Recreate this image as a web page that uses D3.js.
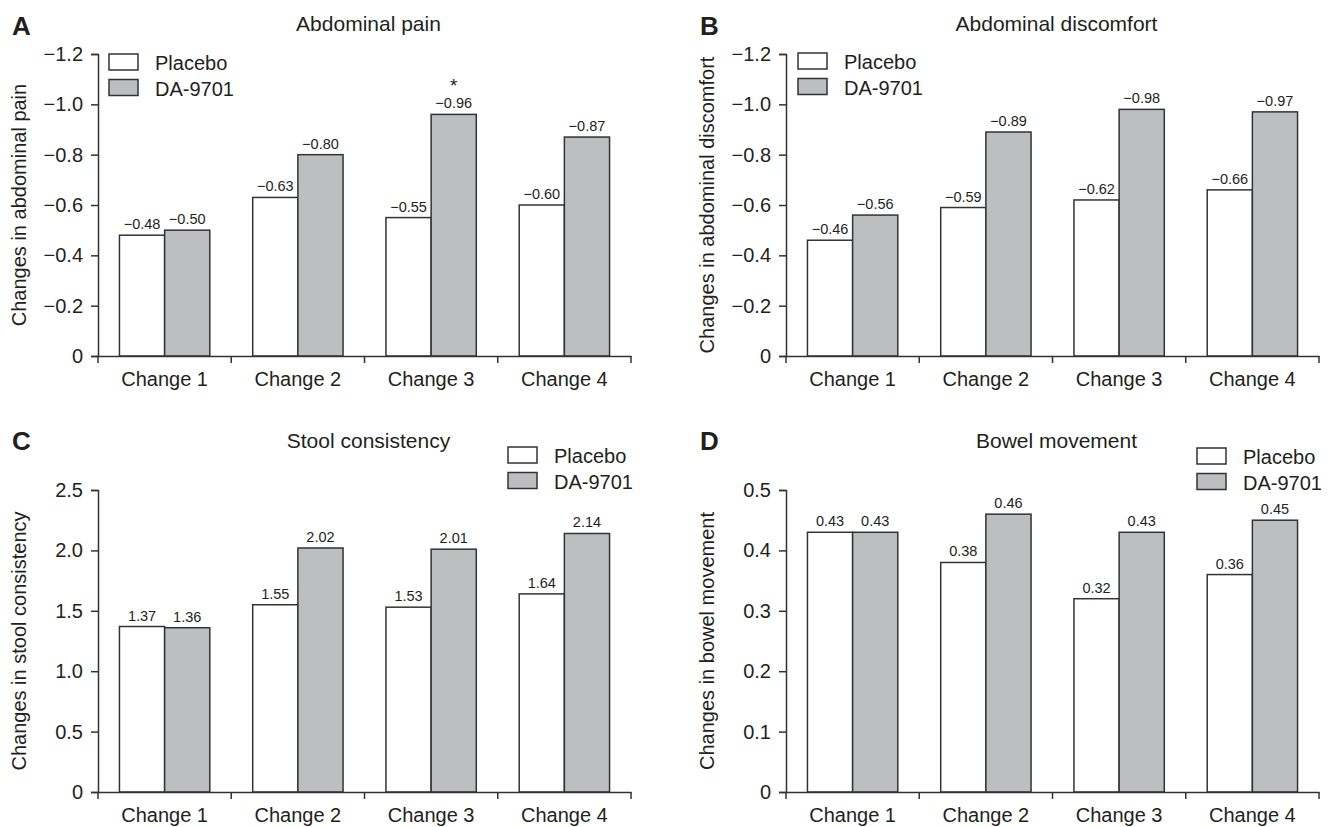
<!DOCTYPE html>
<html>
<head>
<meta charset="utf-8">
<script src="https://cdn.jsdelivr.net/npm/d3@7"></script>
<style>
  body { margin: 0; background: #fff; }
  svg text { font-family: "Liberation Sans", Arial, Helvetica, sans-serif; fill: #231f20; }
  .tick text { font-size: 20px; }
  .value { font-size: 14.5px; }
  .title { font-size: 21px; }
  .legend text { font-size: 20px; }
  .ylabel { font-size: 20px; }
  .letter { font-size: 26px; font-weight: bold; }
  .star { font-size: 19px; }
</style>
</head>
<body>
<svg id="chart" width="1332" height="827"></svg>
<script>
const categories = ["Change 1", "Change 2", "Change 3", "Change 4"];
const groups = ["Placebo", "DA-9701"];

// A - abdominal pain
const painPlacebo = [-0.48, -0.63, -0.55, -0.60];
const painDA = [-0.50, -0.80, -0.96, -0.87];
const painStars = ["", "", "*", ""];
const painTicks = [0, -0.2, -0.4, -0.6, -0.8, -1.0, -1.2];

// B - abdominal discomfort
const discomfortPlacebo = [-0.46, -0.59, -0.62, -0.66];
const discomfortDA = [-0.56, -0.89, -0.98, -0.97];
const discomfortTicks = [0, -0.2, -0.4, -0.6, -0.8, -1.0, -1.2];

// C - stool consistency
const stoolPlacebo = [1.37, 1.55, 1.53, 1.64];
const stoolDA = [1.36, 2.02, 2.01, 2.14];
const stoolTicks = [0, 0.5, 1.0, 1.5, 2.0, 2.5];

// D - bowel movement
const bowelPlacebo = [0.43, 0.38, 0.32, 0.36];
const bowelDA = [0.43, 0.46, 0.43, 0.45];
const bowelTicks = [0, 0.1, 0.2, 0.3, 0.4, 0.5];

const W = 533, H = 302;
const lineColor = "#333";
const fills = { "Placebo": "#fff", "DA-9701": "#bcbec0" };

const svg = d3.select("#chart");

const panels = [
  { letter: "A", lx: 12, ly: 35, title: "Abdominal pain", ty: 31, ylabel: "Changes in abdominal pain",
    placebo: painPlacebo, da: painDA, stars: painStars, ticks: painTicks, domain: [0, -1.2],
    left: 98, top: 54, legX: 109, legY: 54 },
  { letter: "B", lx: 700, ly: 35, title: "Abdominal discomfort", ty: 31, ylabel: "Changes in abdominal discomfort",
    placebo: discomfortPlacebo, da: discomfortDA, ticks: discomfortTicks, domain: [0, -1.2],
    left: 786, top: 54, legX: 798, legY: 53 },
  { letter: "C", lx: 12, ly: 450, title: "Stool consistency", ty: 448, ylabel: "Changes in stool consistency",
    placebo: stoolPlacebo, da: stoolDA, ticks: stoolTicks, domain: [0, 2.5],
    left: 98, top: 490, legX: 508, legY: 447 },
  { letter: "D", lx: 700, ly: 450, title: "Bowel movement", ty: 448, ylabel: "Changes in bowel movement",
    placebo: bowelPlacebo, da: bowelDA, ticks: bowelTicks, domain: [0, 0.5],
    left: 786, top: 490, legX: 1197, legY: 448 }
];

const valueFmt = d3.format(".2f");
const tickFmt = d => d === 0 ? "0" : d3.format(".1f")(d);

function drawPanel(p) {
  svg.append("text").attr("class", "letter").attr("x", p.lx).attr("y", p.ly).text(p.letter);
  svg.append("text").attr("class", "title")
     .attr("x", p.left + W / 2 + 4).attr("y", p.ty)
     .attr("text-anchor", "middle").text(p.title);

  const g = svg.append("g").attr("transform", `translate(${p.left},${p.top})`);

  const x0 = d3.scaleBand().domain(categories).range([0, W]);
  const bw = x0.bandwidth();
  const x1 = d3.scaleBand().domain(groups).range([bw * 0.161, bw * 0.839]);
  const y = d3.scaleLinear().domain(p.domain).range([H, 0]);

  const rows = categories.map((c, i) => ({
    cat: c,
    values: [
      { key: "Placebo", v: p.placebo[i], star: "" },
      { key: "DA-9701", v: p.da[i], star: p.stars ? p.stars[i] : "" }
    ]
  }));

  const grp = g.selectAll(".grp")
    .data(rows)
    .enter()
    .append("g")
    .attr("class", "grp")
    .attr("transform", d => `translate(${x0(d.cat)},0)`);

  grp.selectAll("rect")
     .data(d => d.values)
     .enter()
     .append("rect")
     .attr("x", d => x1(d.key))
     .attr("y", d => y(d.v))
     .attr("width", x1.bandwidth())
     .attr("height", d => H - y(d.v))
     .attr("fill", d => fills[d.key])
     .attr("stroke", lineColor)
     .attr("stroke-width", 1.5);

  grp.selectAll(".value")
     .data(d => d.values)
     .enter()
     .append("text")
     .attr("class", "value")
     .attr("x", d => x1(d.key) + x1.bandwidth() / 2)
     .attr("y", d => y(d.v) - 6)
     .attr("text-anchor", "middle")
     .text(d => valueFmt(d.v));

  grp.selectAll(".star")
     .data(d => d.values.filter(v => v.star))
     .enter()
     .append("text")
     .attr("class", "star")
     .attr("x", d => x1(d.key) + x1.bandwidth() / 2)
     .attr("y", d => y(d.v) - 22)
     .attr("text-anchor", "middle")
     .text(d => d.star);

  // y axis
  const yAxis = g.append("g")
    .call(d3.axisLeft(y).tickValues(p.ticks).tickSize(7).tickPadding(8).tickFormat(tickFmt));
  yAxis.selectAll("path, line").attr("stroke", lineColor).attr("stroke-width", 1.5);

  // x axis
  const xAxis = g.append("g")
    .attr("transform", `translate(0,${H})`)
    .call(d3.axisBottom(x0).tickSize(0).tickSizeOuter(0).tickPadding(16));
  xAxis.select(".domain").attr("stroke", lineColor).attr("stroke-width", 1.5);

  const bounds = [0].concat(categories.map(c => x0(c) + bw));
  xAxis.selectAll(".bound")
       .data(bounds)
       .enter()
       .append("line")
       .attr("class", "bound")
       .attr("x1", d => d).attr("x2", d => d)
       .attr("y1", 0).attr("y2", 7)
       .attr("stroke", lineColor)
       .attr("stroke-width", 1.5);

  // y label
  svg.append("text")
     .attr("class", "ylabel")
     .attr("transform", `translate(${p.left - 72},${p.top + H / 2}) rotate(-90)`)
     .attr("text-anchor", "middle")
     .text(p.ylabel);

  // legend
  const leg = svg.append("g").attr("class", "legend").attr("transform", `translate(${p.legX},${p.legY})`);
  groups.forEach((k, i) => {
    leg.append("rect")
       .attr("x", 0).attr("y", i * 25.5)
       .attr("width", 29).attr("height", 16)
       .attr("fill", fills[k])
       .attr("stroke", lineColor)
       .attr("stroke-width", 1.5);
    leg.append("text")
       .attr("x", 46).attr("y", i * 25.5 + 16)
       .text(k);
  });
}

panels.forEach(drawPanel);
</script>
</body>
</html>
